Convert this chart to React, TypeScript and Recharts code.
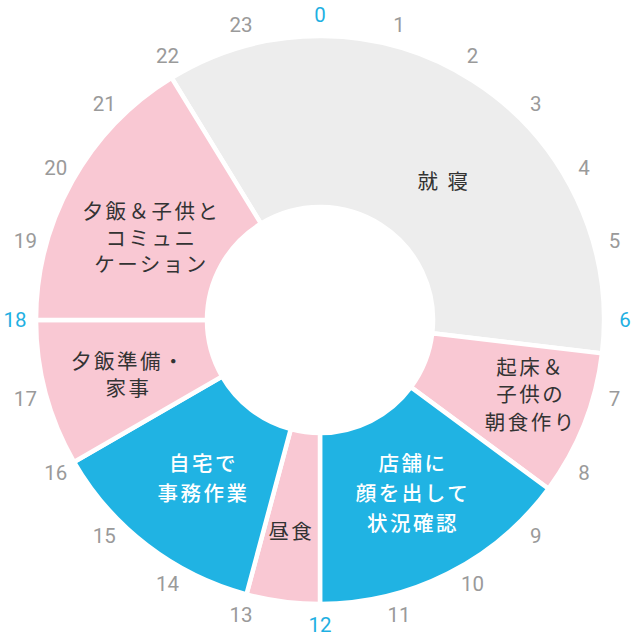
import React from 'react';
import { PieChart, Pie, Cell } from 'recharts';

// Activities of the day, clockwise starting at the start of sleep
const activityNames = [
  '就寝',
  '起床＆子供の朝食作り',
  '店舗に顔を出して状況確認',
  '昼食',
  '自宅で事務作業',
  '夕飯準備・家事',
  '夕飯＆子供とコミュニケーション',
];
const activityLines = [
  ['就 寝'],
  ['起床＆', '子供の', '朝食作り'],
  ['店舗に', '顔を出して', '状況確認'],
  ['昼食'],
  ['自宅で', '事務作業'],
  ['夕飯準備・', '家事'],
  ['夕飯＆子供と', 'コミュニ', 'ケーション'],
];
// durations in hours
const activityHours = [8.55, 1.98, 3.57, 1, 3, 2, 3.9];
const activityKinds = ['sleep', 'home', 'work', 'home', 'work', 'home', 'home'];
const dayStartHour = 21.9;

const hourLabels = [
  '0', '1', '2', '3', '4', '5', '6', '7', '8', '9', '10', '11',
  '12', '13', '14', '15', '16', '17', '18', '19', '20', '21', '22', '23',
];
const accentHours = ['0', '6', '12', '18'];

// styling
const CX = 320;
const CY = 320;
const KIND_COLORS: Record<string, string> = {
  sleep: '#ededed',
  home: '#f9c8d3',
  work: '#20b3e3',
};
const TEXT_COLORS: Record<string, string> = {
  sleep: '#333333',
  home: '#333333',
  work: '#ffffff',
};
const LABEL_RADIUS = [186, 222, 195, 212, 196, 200, 189];
const LABEL_ANGLE_SHIFT = [8.7, -2.3, -1.3, 0.6, -0.6, -0.4, -3.2];
const LINE_HEIGHT = [28, 27.5, 30, 28, 30, 27, 26.5];
const RAD = Math.PI / 180;

const activityData = activityNames.map((name, i) => ({
  name,
  value: activityHours[i],
  kind: activityKinds[i],
  lines: activityLines[i],
}));
const hourData = hourLabels.map((h) => ({ name: h, value: 1 }));

const startAngle = 90 - dayStartHour * 15;

const renderActivityLabel = (props: any) => {
  const { midAngle, index } = props;
  const a = (midAngle - LABEL_ANGLE_SHIFT[index]) * RAD;
  const r = LABEL_RADIUS[index];
  const x = CX + r * Math.cos(a);
  const y = CY - r * Math.sin(a);
  const lines = activityLines[index];
  const lh = LINE_HEIGHT[index];
  const top = y - ((lines.length - 1) * lh) / 2;
  const kind = activityKinds[index];
  return (
    <text
      key={`al-${index}`}
      x={x}
      y={top}
      textAnchor="middle"
      dominantBaseline="central"
      fill={TEXT_COLORS[kind]}
      fontSize={20.5}
      fontWeight={kind === 'work' ? 500 : 400}
      fontFamily='"Noto Sans CJK JP", sans-serif'
      style={{ letterSpacing: '2.5px' }}
    >
      {lines.map((ln, j) => (
        <tspan key={j} x={x + 1.25} y={top + j * lh}>
          {ln}
        </tspan>
      ))}
    </text>
  );
};

const renderHourLabel = (props: any) => {
  const { midAngle, index } = props;
  const a = midAngle * RAD;
  const r = 305;
  const x = CX + r * Math.cos(a);
  const y = CY - r * Math.sin(a);
  const label = hourLabels[index];
  const accent = accentHours.includes(label);
  return (
    <text
      key={`hl-${index}`}
      x={x}
      y={y}
      textAnchor="middle"
      dominantBaseline="central"
      fill={accent ? '#1fb0e2' : '#9a9a9a'}
      fontSize={20.5}
      fontFamily='Roboto, "Noto Sans", sans-serif'
    >
      {label}
    </text>
  );
};

export default function App() {
  return (
    <div style={{ position: 'fixed', left: 0, top: 0, width: 632, height: 640, background: '#ffffff' }}>
      <PieChart width={632} height={640} margin={{ top: 0, right: 0, bottom: 0, left: 0 }}>
        <Pie
          data={hourData}
          dataKey="value"
          cx={CX}
          cy={CY}
          innerRadius={300}
          outerRadius={301}
          startAngle={97.5}
          endAngle={-262.5}
          fill="none"
          stroke="none"
          label={renderHourLabel}
          labelLine={false}
          isAnimationActive={false}
        />
        <Pie
          data={activityData}
          dataKey="value"
          cx={CX}
          cy={CY}
          innerRadius={113}
          outerRadius={284}
          startAngle={startAngle}
          endAngle={startAngle - 360}
          stroke="#ffffff"
          strokeWidth={4.5}
          label={renderActivityLabel}
          labelLine={false}
          isAnimationActive={false}
        >
          {activityData.map((d, i) => (
            <Cell key={i} fill={KIND_COLORS[d.kind]} />
          ))}
        </Pie>
      </PieChart>
    </div>
  );
}
